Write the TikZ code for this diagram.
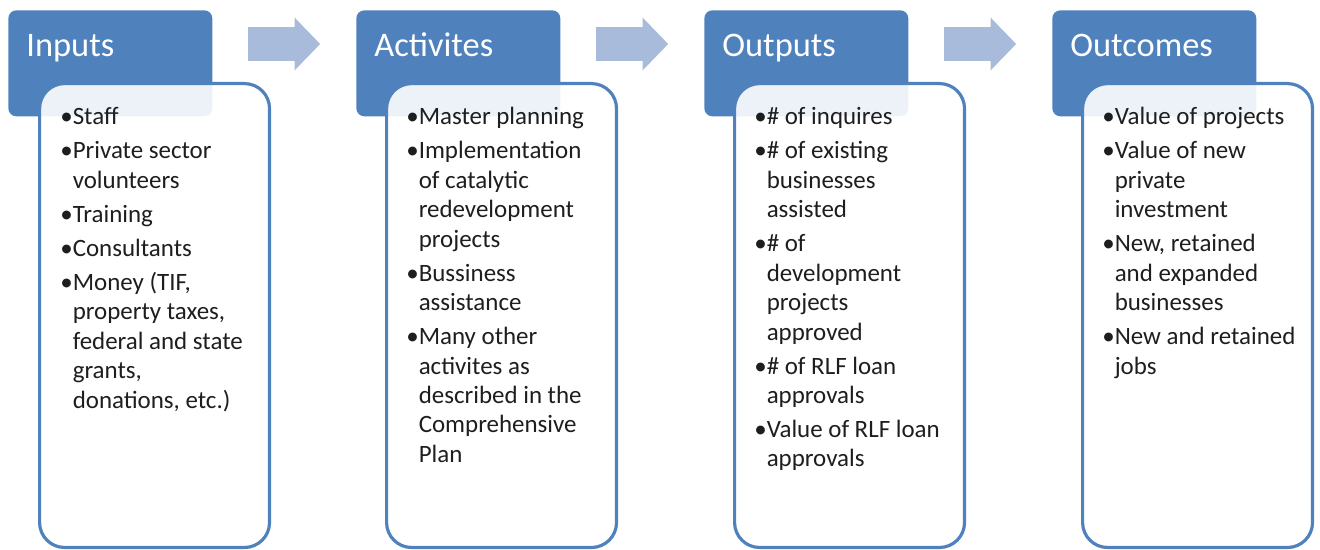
\documentclass[tikz,border=0pt]{standalone}
\usepackage{fontspec}
\setmainfont{Carlito}
\usetikzlibrary{shapes.arrows}
\definecolor{hdrblue}{HTML}{4F81BD}
\definecolor{arrblue}{HTML}{A9BBDA}
\definecolor{txtgray}{HTML}{1E1E1E}
% small extra space between two bullets
\newcommand\nx{\\[2.6pt]}
\begin{document}
\begin{tikzpicture}[x=0.02cm,y=-0.02cm,
    header/.style={fill=hdrblue,rounded corners=0.16cm,minimum width=4.08cm,minimum height=2.12cm,inner sep=0,anchor=north west},
    title/.style={text=white,font=\fontsize{19.6}{24}\selectfont,anchor=base west,inner sep=0},
    listbox/.style={draw=hdrblue,line width=1.8pt,fill=white,fill opacity=0.9,rounded corners=0.5cm,minimum width=4.6cm,minimum height=9.28cm,inner sep=0,anchor=north west},
    items/.style={text=txtgray,font=\fontsize{14.2}{16.75}\selectfont,anchor=base west,inner sep=0},
    flow/.style={single arrow,fill=arrblue,inner xsep=0,inner ysep=0.33cm,minimum height=1.44cm,single arrow head extend=0.19cm,single arrow tip angle=92}]
    \useasboundingbox (0,0) rectangle (1320,550);
    % arrows between the stages
    \node[flow] (arr1) at (276,44) {};
    \node[flow] (arr2) at (624,44) {};
    \node[flow] (arr3) at (972,44) {};
    % inputs
    \node[header] (inputs) at (8,10) {};
    \node[title] (inputs-t) at (26,57) {Inputs};
    \node[listbox] (inputs-box) at (38,82) {};
    \node[items] (inputs-l) at (60,125) {\begin{tabular}[t]{@{}l@{}l@{}}
        \textbullet & Staff\nx
        \textbullet & Private sector\\ & volunteers\nx
        \textbullet & Training\nx
        \textbullet & Consultants\nx
        \textbullet & Money (TIF,\\ & property taxes,\\ & federal and state\\ & grants,\\ & donations, etc.)
      \end{tabular}};
    % activites
    \node[header] (activ) at (356,10) {};
    \node[title] (activ-t) at (374,57) {Activites};
    \node[listbox] (activ-box) at (385,82) {};
    \node[items] (activ-l) at (406,125) {\begin{tabular}[t]{@{}l@{}l@{}}
        \textbullet & Master planning\nx
        \textbullet & Implementation\\ & of catalytic\\ & redevelopment\\ & projects\nx
        \textbullet & Bussiness\\ & assistance\nx
        \textbullet & Many other\\ & activites as\\ & described in the\\ & Comprehensive\\ & Plan
      \end{tabular}};
    % outputs
    \node[header] (outputs) at (704,10) {};
    \node[title] (outputs-t) at (722,57) {Outputs};
    \node[listbox] (outputs-box) at (733,82) {};
    \node[items] (outputs-l) at (754,125) {\begin{tabular}[t]{@{}l@{}l@{}}
        \textbullet & \# of inquires\nx
        \textbullet & \# of existing\\ & businesses\\ & assisted\nx
        \textbullet & \# of\\ & development\\ & projects\\ & approved\nx
        \textbullet & \# of RLF loan\\ & approvals\nx
        \textbullet & Value of RLF loan\\ & approvals
      \end{tabular}};
    % outcomes
    \node[header] (outcomes) at (1052,10) {};
    \node[title] (outcomes-t) at (1070,57) {Outcomes};
    \node[listbox] (outcomes-box) at (1081,82) {};
    \node[items] (outcomes-l) at (1102,125) {\begin{tabular}[t]{@{}l@{}l@{}}
        \textbullet & Value of projects\nx
        \textbullet & Value of new\\ & private\\ & investment\nx
        \textbullet & New, retained\\ & and expanded\\ & businesses\nx
        \textbullet & New and retained\\ & jobs
      \end{tabular}};
\end{tikzpicture}
\end{document}
